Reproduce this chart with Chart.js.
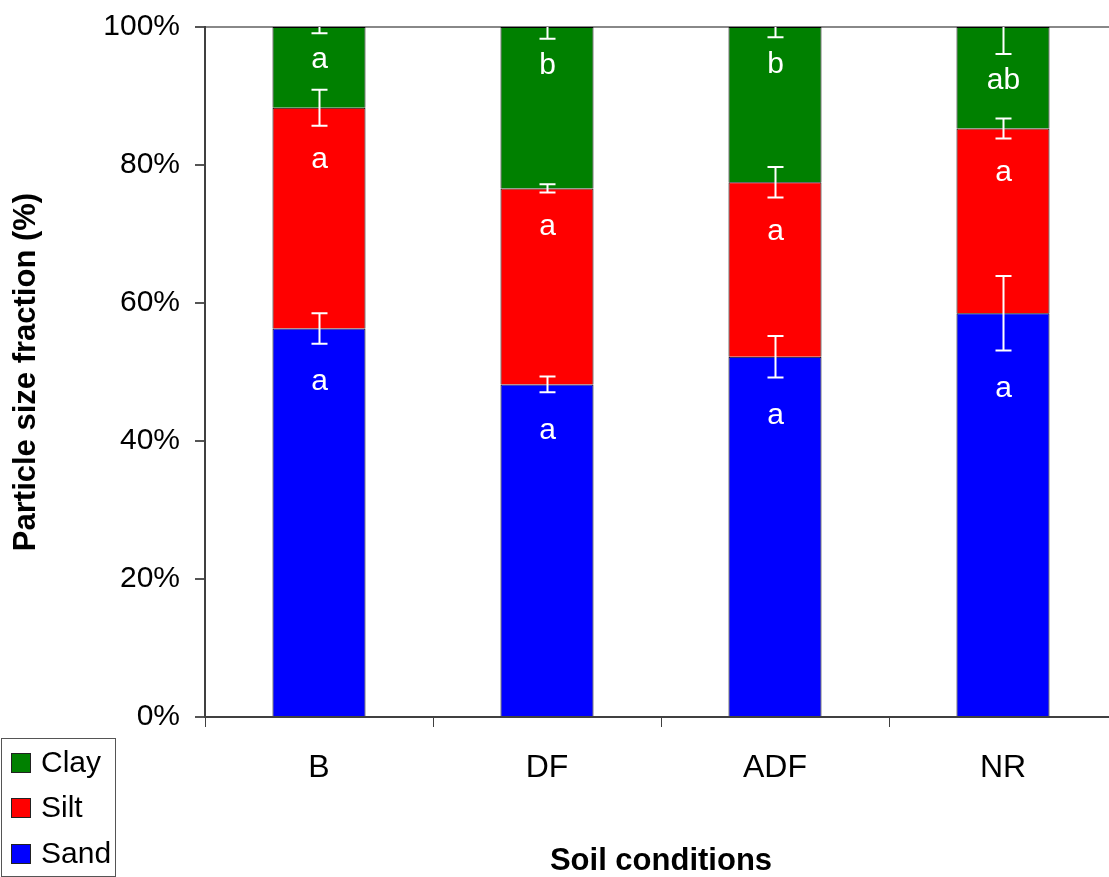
<!DOCTYPE html>
<html>
<head>
<meta charset="utf-8">
<script src="https://cdn.jsdelivr.net/npm/chart.js@4"></script>
<style>
  html, body { margin: 0; padding: 0; overflow: hidden; background: #fff; }
  #myChart { position: relative; top: -6px; display: block; }
</style>
</head>
<body>
<canvas id="myChart" width="1125" height="883"></canvas>
<script>
// data (percent)
var categories = ['B', 'DF', 'ADF', 'NR'];
var sandValues = [56.3, 48.2, 52.2, 58.5];
var siltValues = [32.0, 28.4, 25.3, 26.8];
var clayValues = [11.7, 23.4, 22.5, 14.7];
var sandErrors = [2.2, 1.15, 3.0, 5.4];
var siltErrors = [2.6, 0.6, 2.2, 1.45];
var clayErrors = [0.9, 1.7, 1.5, 3.9];
var sandLetters = ['a', 'a', 'a', 'a'];
var siltLetters = ['a', 'a', 'a', 'a'];
var clayLetters = ['a', 'b', 'b', 'ab'];

var FONT = 'Arial, "Liberation Sans", sans-serif';
Chart.defaults.font.family = FONT;
Chart.defaults.color = '#000';

// distance (px) from the lower error cap down to the letter
var letterGap = [38, 34, 27];

function stackTop(chart, di, j) {
    var sum = 0;
    for (var k = 0; k <= di; k++) sum += chart.data.datasets[k].data[j];
    return sum;
}

var errorBars = {
    id: 'errorBars',
    afterDatasetsDraw: function (chart) {
        var ctx = chart.ctx, ys = chart.scales.y, area = chart.chartArea;
        ctx.save();
        ctx.beginPath();
        ctx.rect(area.left, area.top, area.right - area.left, area.bottom - area.top);
        ctx.clip();
        chart.data.datasets.forEach(function (ds, i) {
            var meta = chart.getDatasetMeta(i);
            meta.data.forEach(function (bar, j) {
                var top = stackTop(chart, i, j);
                var err = ds.errors[j];
                var y1 = ys.getPixelForValue(top + err);
                var y2 = ys.getPixelForValue(top - err);
                var x = Math.round(bar.x) + 0.5;
                ctx.strokeStyle = '#fff';
                ctx.lineWidth = 2;
                ctx.beginPath();
                ctx.moveTo(x, y1); ctx.lineTo(x, y2);
                ctx.moveTo(x - 8, y1); ctx.lineTo(x + 8, y1);
                ctx.moveTo(x - 8, y2); ctx.lineTo(x + 8, y2);
                ctx.stroke();
                // significance letter
                ctx.fillStyle = '#fff';
                ctx.font = '30px ' + FONT;
                ctx.textAlign = 'center';
                ctx.textBaseline = 'middle';
                ctx.fillText(ds.letters[j], x, y2 + letterGap[i]);
            });
        });
        ctx.restore();
    }
};

// canvas is shifted up 6px, so the legend is drawn 6px lower
var boxLegend = {
    id: 'boxLegend',
    afterDraw: function (chart) {
        var ctx = chart.ctx;
        ctx.save();
        ctx.strokeStyle = '#555';
        ctx.lineWidth = 1;
        ctx.strokeRect(1.5, 744.5, 114, 138);
        var rows = [769, 814, 860];
        var list = chart.data.datasets.slice().reverse();
        list.forEach(function (ds, k) {
            ctx.fillStyle = ds.backgroundColor;
            ctx.fillRect(11, rows[k] - 10, 20, 20);
            ctx.strokeStyle = '#222';
            ctx.strokeRect(11.5, rows[k] - 9.5, 19, 19);
            ctx.fillStyle = '#000';
            ctx.font = '30px ' + FONT;
            ctx.textAlign = 'left';
            ctx.textBaseline = 'middle';
            ctx.fillText(ds.label, 41, rows[k] + 1);
        });
        ctx.restore();
    }
};

var ctx = document.getElementById('myChart');
var myChart = new Chart(ctx, {
    type: 'bar',
    data: {
        labels: categories,
        datasets: [
            { label: 'Sand', data: sandValues, errors: sandErrors, letters: sandLetters,
              backgroundColor: '#0000ff', borderColor: '#000', borderWidth: 1 },
            { label: 'Silt', data: siltValues, errors: siltErrors, letters: siltLetters,
              backgroundColor: '#ff0000', borderColor: '#000', borderWidth: 1 },
            { label: 'Clay', data: clayValues, errors: clayErrors, letters: clayLetters,
              backgroundColor: '#008000', borderColor: '#000', borderWidth: 1 }
        ]
    },
    plugins: [errorBars, boxLegend],
    options: {
        responsive: false,
        animation: false,
        layout: { padding: { top: 17, right: 8, left: 0, bottom: 0 } },
        datasets: { bar: { barPercentage: 0.408, categoryPercentage: 1.0 } },
        plugins: { legend: { display: false }, tooltip: { enabled: false } },
        scales: {
            x: {
                stacked: true,
                afterFit: function (s) { s.height = 160; },
                border: { display: true, color: '#404040', width: 2 },
                grid: { display: true, drawOnChartArea: false, tickLength: 10, tickColor: '#404040', offset: true },
                ticks: { font: { size: 32 }, padding: 22, color: '#000' },
                title: { display: true, text: 'Soil conditions', font: { size: 31, weight: 'bold' }, padding: { top: 0, bottom: -3 } }
            },
            y: {
                stacked: true,
                min: 0,
                max: 100,
                afterFit: function (s) { s.width = 205; },
                border: { display: true, color: '#404040', width: 2 },
                grid: {
                    tickLength: 10,
                    tickColor: '#555',
                    color: function (c) { return c.tick && c.tick.value === 100 ? '#888' : 'rgba(0,0,0,0)'; },
                    lineWidth: 2
                },
                ticks: { stepSize: 20, font: { size: 30 }, padding: 15, color: '#000',
                         callback: function (v) { return v + '%'; } },
                title: { display: true, text: 'Particle size fraction (%)', font: { size: 31, weight: 'bold' }, padding: { top: 8, bottom: 0 } }
            }
        }
    }
});
</script>
</body>
</html>
